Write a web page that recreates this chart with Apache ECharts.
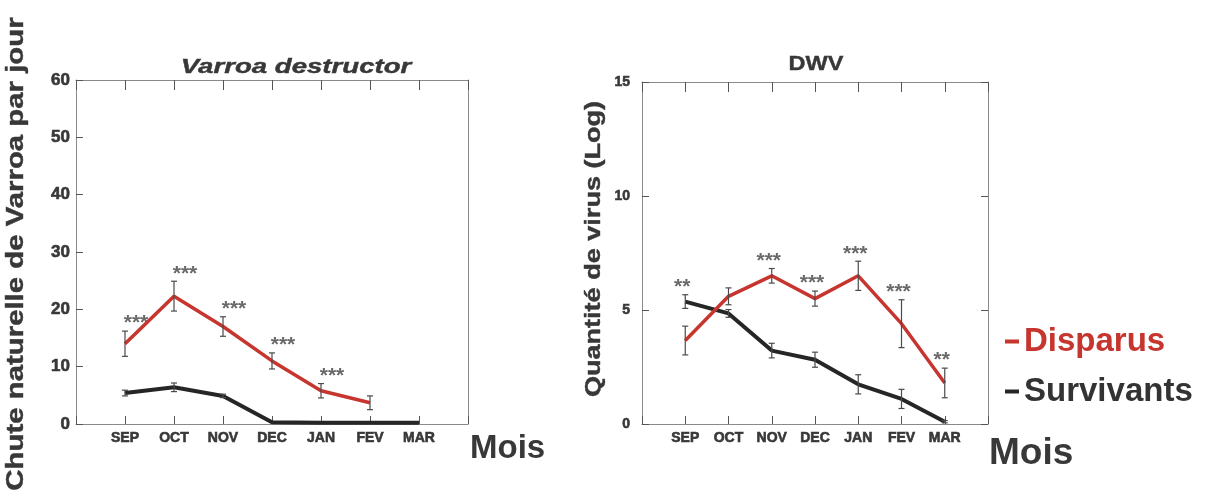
<!DOCTYPE html>
<html><head><meta charset="utf-8">
<script src="https://cdn.jsdelivr.net/npm/echarts@6/dist/echarts.min.js"></script>
<style>html,body{margin:0;padding:0;background:#fff}#c{width:1210px;height:495px}</style>
</head><body><div id="c"></div>
<script>
// ---- data ----
var months = ['SEP','OCT','NOV','DEC','JAN','FEV','MAR'];
var varroaTicks = [0,10,20,30,40,50,60];
var dwvTicks = [0,5,10,15];

var varroaDisparus = [14, 22.3, 17, 11, 5.8, 3.7];
var varroaDisparusErr = [2.2, 2.6, 1.7, 1.4, 1.25, 1.2];
var varroaSurvivants = [5.4, 6.4, 4.9, 0.3, 0.2, 0.2, 0.2];
var varroaSurvivantsErr = [0.5, 0.75, 0.3, 0, 0, 0, 0];
var varroaStars = ['***','***','***','***','***','',''];

var dwvDisparus = [3.66, 5.6, 6.5, 5.5, 6.5, 4.4, 1.8];
var dwvDisparusErr = [0.63, 0.37, 0.32, 0.33, 0.64, 1.05, 0.65];
var dwvSurvivants = [5.37, 4.85, 3.22, 2.82, 1.74, 1.1, 0.1];
var dwvSurvivantsErr = [0.3, 0.17, 0.32, 0.33, 0.42, 0.42, 0.05];
var dwvStars = ['**','','***','***','***','***','**'];

// ---- build ----
var RED = '#c7352f', DARK = '#262626', TXT = '#383838', AX = '#8a8a8a', TK = '#555';
var FF = '"Liberation Sans", Arial, sans-serif';
function pts(vals){ return vals.map(function(v,i){ return [i+1, v]; }); }
function errs(vals, e){ return vals.map(function(v,i){ return [i+1, v-e[i], v+e[i]]; }); }
function starPts(stars, lists){
  var out = [];
  stars.forEach(function(s,i){
    if(!s) return;
    var hi = -Infinity;
    lists.forEach(function(l){ if(l[0][i]!=null) hi = Math.max(hi, l[0][i] + l[1][i]); });
    out.push({value:[i+1, hi], label:{formatter:s}});
  });
  return out;
}
function errSeries(data, xi, yi){
  return {type:'custom', xAxisIndex:xi, yAxisIndex:yi, z:5, silent:true,
    renderItem:function(params, api){
      var x = api.value(0);
      var p1 = api.coord([x, api.value(1)]), p2 = api.coord([x, api.value(2)]);
      var w = 3;
      var st = {stroke:'#4a4a4a', lineWidth:1.2};
      return {type:'group', children:[
        {type:'line', shape:{x1:p1[0],y1:p1[1],x2:p2[0],y2:p2[1]}, style:st},
        {type:'line', shape:{x1:p1[0]-w,y1:p1[1],x2:p1[0]+w,y2:p1[1]}, style:st},
        {type:'line', shape:{x1:p2[0]-w,y1:p2[1],x2:p2[0]+w,y2:p2[1]}, style:st}
      ]};
    },
    data:data};
}
function boldLabel(fs, extra, border){
  var o = {color:TXT, fontWeight:'bold', fontSize:fs, fontFamily:FF};
  if(border){ o.textBorderColor = TXT; o.textBorderWidth = 0.6; }
  return Object.assign(o, extra||{});
}
function xAxes(gi, border){
  var bottom = {type:'value', gridIndex:gi, min:0, max:8, interval:1, position:'bottom',
    axisLine:{lineStyle:{color:AX,width:1}}, splitLine:{show:false},
    axisTick:{inside:true, length:8, lineStyle:{color:TK}},
    axisLabel:boldLabel(14, {margin:7, formatter:function(v){ return months[v-1] || ''; }}, border)};
  var top = {type:'value', gridIndex:gi, min:0, max:8, interval:1, position:'top',
    axisLine:{onZero:false, lineStyle:{color:AX,width:1}}, splitLine:{show:false},
    axisTick:{inside:true, length:10, lineStyle:{color:TK}},
    axisLabel:{show:false}};
  return [bottom, top];
}
function yAxes(gi, max, interval, rightTicks, fs, margin, border){
  var left = {type:'value', gridIndex:gi, min:0, max:max, interval:interval, position:'left',
    axisLine:{show:true, lineStyle:{color:AX}}, splitLine:{show:false},
    axisTick:{show:true, inside:true, length:7, lineStyle:{color:TK}},
    axisLabel:boldLabel(fs, {margin:margin}, border)};
  var right = {type:'value', gridIndex:gi, min:0, max:max, interval:interval, position:'right',
    axisLine:{show:true, onZero:false, lineStyle:{color:AX}}, splitLine:{show:false},
    axisTick:{show:rightTicks, inside:true, length:7, lineStyle:{color:TK}},
    axisLabel:{show:false}};
  return [left, right];
}
function lineS(name, data, color, xi, yi, w){
  return {name:name, type:'line', xAxisIndex:xi, yAxisIndex:yi, data:data, symbol:'none',
    lineStyle:{color:color, width:w}, itemStyle:{color:color}, z:3, silent:true};
}
function starS(data, xi, yi, dx){
  return {type:'scatter', xAxisIndex:xi, yAxisIndex:yi, data:data, symbolSize:0, silent:true,
    label:{show:true, position:'top', distance:-3, offset:[dx,0], color:'#444', fontSize:21,
      fontWeight:'bold', fontFamily:FF}};
}

var xs = xAxes(0, true).concat(xAxes(1, true));
var ys = yAxes(0, 60, 10, false, 17, 6, true).concat(yAxes(1, 15, 5, true, 14, 12, true));

var option = {
  animation:false,
  grid:[{left:76, top:80, width:392, height:344},{left:642, top:82, width:346, height:342}],
  xAxis: xs,
  yAxis: ys,
  legend:{orient:'vertical', left:1000, top:320, itemGap:17, itemWidth:14, itemHeight:4,
    icon:'rect', selectedMode:false,
    textStyle:{fontSize:33, fontWeight:'bold', fontFamily:FF, padding:[0,0,0,0]},
    data:[{name:'Disparus', textStyle:{color:RED}}, {name:'Survivants', textStyle:{color:'#333'}}]},
  series:[
    lineS('Survivants', pts(varroaSurvivants), DARK, 0, 0, 4),
    lineS('Disparus', pts(varroaDisparus), RED, 0, 0, 3.5),
    errSeries(errs(varroaDisparus, varroaDisparusErr), 0, 0),
    errSeries(errs(varroaSurvivants.slice(0,3), varroaSurvivantsErr), 0, 0),
    starS(starPts(varroaStars, [[varroaDisparus, varroaDisparusErr]]), 0, 0, 11),
    lineS('Survivants', pts(dwvSurvivants), DARK, 2, 2, 4),
    lineS('Disparus', pts(dwvDisparus), RED, 2, 2, 3.5),
    errSeries(errs(dwvDisparus, dwvDisparusErr), 2, 2),
    errSeries(errs(dwvSurvivants, dwvSurvivantsErr), 2, 2),
    starS(starPts(dwvStars, [[dwvDisparus, dwvDisparusErr],[dwvSurvivants, dwvSurvivantsErr]]), 2, 2, -3)
  ],
  graphic:[
    {type:'text', x:296, y:67, scaleX:1.38, style:{text:'Varroa destructor', fill:TXT, stroke:TXT, lineWidth:0.4, font:'italic bold 20px ' + FF, align:'center', verticalAlign:'middle'}},
    {type:'text', x:816, y:64, scaleX:1.12, style:{text:'DWV', fill:TXT, stroke:TXT, lineWidth:0.4, font:'bold 21px ' + FF, align:'center', verticalAlign:'middle'}},
    {type:'text', x:17, y:254, rotation:Math.PI/2, scaleX:1.25, style:{text:'Chute naturelle de Varroa par jour', fill:TXT, stroke:TXT, lineWidth:0.4, font:'bold 23.5px ' + FF, align:'center', verticalAlign:'middle'}},
    {type:'text', x:594, y:249, rotation:Math.PI/2, scaleX:1.23, style:{text:'Quantité de virus (Log)', fill:TXT, stroke:TXT, lineWidth:0.4, font:'bold 22px ' + FF, align:'center', verticalAlign:'middle'}},
    {type:'text', x:470, y:449, style:{text:'Mois', fill:TXT, font:'bold 33px ' + FF, align:'left', verticalAlign:'middle'}},
    {type:'text', x:989, y:454, style:{text:'Mois', fill:TXT, font:'bold 37px ' + FF, align:'left', verticalAlign:'middle'}}
  ]
};
var chart = echarts.init(document.getElementById('c'), null, {renderer:'canvas'});
chart.setOption(option);
</script></body></html>
